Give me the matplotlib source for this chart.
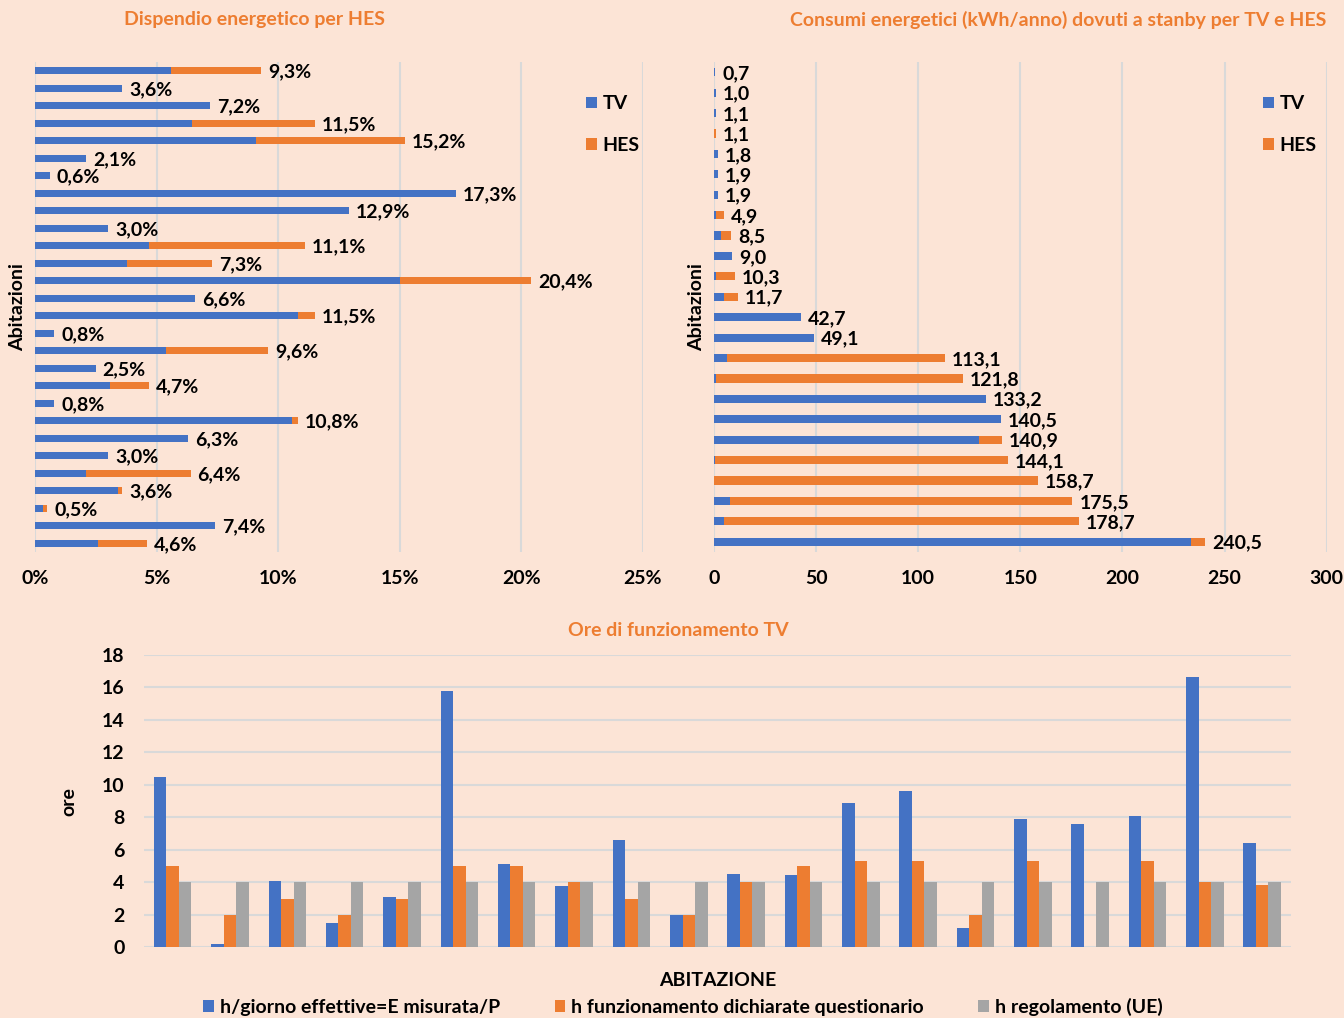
import matplotlib.pyplot as plt
import numpy as np

plt.rcParams['font.family'] = ['Lato', 'DejaVu Sans']
plt.rcParams['font.weight'] = 'bold'
plt.rcParams['axes.labelweight'] = 'bold'

BG = '#FCE4D6'
BLUE = '#4472C4'
ORANGE = '#ED7D31'
GRAY = '#A5A5A5'
GRID = '#D9D9D9'
TITLE_C = '#ED7D31'
FS = 14

# --- Dispendio energetico per HES (% , top to bottom) ---
hes_tot = [9.3, 3.6, 7.2, 11.5, 15.2, 2.1, 0.6, 17.3, 12.9, 3.0, 11.1, 7.3, 20.4, 6.6,
           11.5, 0.8, 9.6, 2.5, 4.7, 0.8, 10.8, 6.3, 3.0, 6.4, 3.6, 0.5, 7.4, 4.6]
hes_tv = [5.6, 3.6, 7.2, 6.45, 9.1, 2.1, 0.6, 17.3, 12.9, 3.0, 4.7, 3.8, 15.0, 6.6,
          10.8, 0.8, 5.4, 2.5, 3.1, 0.8, 10.55, 6.3, 3.0, 2.1, 3.4, 0.35, 7.4, 2.6]

# --- Consumi standby kWh/anno (top to bottom) ---
sb_tot = [0.7, 1.0, 1.1, 1.1, 1.8, 1.9, 1.9, 4.9, 8.5, 9.0, 10.3, 11.7, 42.7, 49.1,
          113.1, 121.8, 133.2, 140.5, 140.9, 144.1, 158.7, 175.5, 178.7, 240.5]
sb_tv = [0.7, 1.0, 1.1, 0.0, 1.8, 1.9, 1.9, 1.2, 3.3, 9.0, 1.0, 5.0, 42.7, 49.1,
         6.6, 0.8, 133.2, 140.5, 129.9, 0.6, 0.0, 7.9, 5.0, 233.4]

# --- Ore di funzionamento TV ---
h_eff = [10.5, 0.2, 4.1, 1.5, 3.1, 15.8, 5.15, 3.8, 6.6, 2.0,
         4.5, 4.45, 8.9, 9.6, 1.2, 7.9, 7.6, 8.1, 16.65, 6.4]
h_quest = [5, 2, 3, 2, 3, 5, 5, 4, 3, 2, 4, 5, 5.3, 5.3, 2, 5.3, 0, 5.3, 4, 3.85]
h_ue = [4] * 20

fig = plt.figure(figsize=(13.44, 10.18), dpi=100, facecolor=BG)


def style_top(ax):
    ax.set_facecolor(BG)
    for s in ax.spines.values():
        s.set_visible(False)
    ax.grid(axis='x', color=GRID, linewidth=1.5)
    ax.set_axisbelow(True)
    ax.set_yticks([])
    ax.tick_params(axis='x', length=0, pad=13, labelsize=FS)


# top-left
ax1 = fig.add_axes([0.026, 0.4578, 0.4524, 0.4813])
style_top(ax1)
y1 = np.arange(len(hes_tot))
hes_rest = [t - v for t, v in zip(hes_tot, hes_tv)]
ax1.barh(y1, hes_tv, height=0.4, color=BLUE, label='TV')
ax1.barh(y1, hes_rest, left=hes_tv, height=0.4, color=ORANGE, label='HES')
for yy, t in zip(y1, hes_tot):
    ax1.annotate(f'{t:.1f}%'.replace('.', ','), (t, yy), xytext=(5, -1),
                 textcoords='offset points', va='center', ha='left', fontsize=FS)
ax1.set_xlim(0, 25)
ax1.set_ylim(len(hes_tot) - 0.5, -0.5)
ax1.set_xticks(range(0, 26, 5))
ax1.set_xticklabels([f'{v}%' for v in range(0, 26, 5)])
ax1.legend(loc='upper left', bbox_to_anchor=(0.89, 0.952), frameon=False, fontsize=FS,
           borderpad=0, handlelength=0.55, handleheight=0.55, handletextpad=0.3,
           labelspacing=1.25)

# top-right
ax2 = fig.add_axes([0.5312, 0.4578, 0.4559, 0.4813])
style_top(ax2)
y2 = np.arange(len(sb_tot))
sb_rest = [t - v for t, v in zip(sb_tot, sb_tv)]
ax2.barh(y2, sb_tv, height=0.4, color=BLUE, label='TV')
ax2.barh(y2, sb_rest, left=sb_tv, height=0.4, color=ORANGE, label='HES')
for yy, t in zip(y2, sb_tot):
    ax2.annotate(f'{t:.1f}'.replace('.', ','), (t, yy), xytext=(5, -1),
                 textcoords='offset points', va='center', ha='left', fontsize=FS)
ax2.set_xlim(0, 300)
ax2.set_ylim(len(sb_tot) - 0.5, -0.5)
ax2.set_xticks(range(0, 301, 50))
ax2.legend(loc='upper left', bbox_to_anchor=(0.88, 0.952), frameon=False, fontsize=FS,
           borderpad=0, handlelength=0.55, handleheight=0.55, handletextpad=0.3,
           labelspacing=1.25)

fig.text(18 / 1344, 1 - 307 / 1018, 'Abitazioni', rotation=90, ha='center', va='center', fontsize=FS)
fig.text(697 / 1344, 1 - 307 / 1018, 'Abitazioni', rotation=90, ha='center', va='center', fontsize=FS)
fig.text(255 / 1344, 1 - 20 / 1018, 'Dispendio energetico per HES', ha='center', va='center',
         fontsize=FS, color=TITLE_C)
fig.text(1326 / 1344, 1 - 20 / 1018, 'Consumi energetici (kWh/anno) dovuti a stanby per TV e HES',
         ha='right', va='center', fontsize=FS, color=TITLE_C)

# bottom
ax3 = fig.add_axes([0.1071, 0.0695, 0.8534, 0.2871])
ax3.set_facecolor(BG)
for s in ax3.spines.values():
    s.set_visible(False)
ax3.grid(axis='y', color=GRID, linewidth=1.5)
ax3.set_axisbelow(True)
x = np.arange(len(h_eff))
w = 0.218
ax3.bar(x - w, h_eff, width=w, color=BLUE, label='h/giorno effettive=E misurata/P')
ax3.bar(x, h_quest, width=w, color=ORANGE, label='h funzionamento dichiarate questionario')
ax3.bar(x + w, h_ue, width=w, color=GRAY, label='h regolamento (UE)')
ax3.set_xlim(-0.5, len(h_eff) - 0.5)
ax3.set_ylim(0, 18)
ax3.set_yticks(range(0, 19, 2))
ax3.set_xticks([])
ax3.tick_params(axis='y', length=0, pad=14, labelsize=FS)
ax3.set_ylabel('ore', fontsize=FS)
ax3.yaxis.set_label_coords(-0.058, 0.5)
ax3.set_xlabel('ABITAZIONE', fontsize=FS, labelpad=18)
fig.text(678 / 1344, 1 - 630 / 1018, 'Ore di funzionamento TV', ha='center', va='center',
         fontsize=FS, color=TITLE_C)
fig.legend(*ax3.get_legend_handles_labels(), loc='center', bbox_to_anchor=(683 / 1344, 1 - 1007 / 1018),
           ncol=3, frameon=False, fontsize=FS, handlelength=0.55, handleheight=0.55,
           handletextpad=0.3, columnspacing=2.8)

fig.savefig('out.png', dpi=100, facecolor=BG)
